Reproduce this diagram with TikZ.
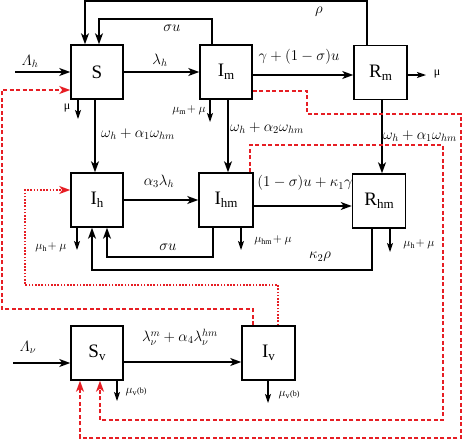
\RequirePackage{fix-cm}
\documentclass[tikz,border=0pt]{standalone}
\usepackage{amsmath}
\usepackage{fontspec}
\setmainfont{Liberation Serif}
\usetikzlibrary{arrows.meta}
\definecolor{rred}{RGB}{230,30,36}
\newcommand{\bsub}[1]{\raisebox{-0.35ex}{\fontsize{13}{13}\selectfont #1}}
\begin{document}
\begin{tikzpicture}[x=1pt,y=-1pt,
  box/.style={draw,line width=1.5pt,minimum width=52pt,minimum height=54pt,inner sep=0pt,font=\fontsize{19}{19}\selectfont},
  arr/.style={line width=1.3pt,-{Stealth[length=11pt,width=8pt,inset=3pt]}},
  sarr/.style={line width=1.1pt,-{Stealth[length=9pt,width=6pt,inset=2pt]}},
  rd/.style={draw=rred,line width=1.4pt,dash pattern=on 4pt off 2.5pt,-{Stealth[length=11pt,width=8pt,inset=3pt,fill=rred]}},
  rdot/.style={draw=rred,line width=1.4pt,dash pattern=on 1.6pt off 1.6pt,-{Stealth[length=11pt,width=8pt,inset=3pt,fill=rred]}},
  lab/.style={font=\fontsize{15}{15}\selectfont,inner sep=0pt},
  slab/.style={font=\fontsize{12}{12}\selectfont,inner sep=0pt}
]
\useasboundingbox (0,0) rectangle (463,440);
% boxes
\node[box] (S) at (97,72) {S};
\node[box] (Im) at (226,72) {I\bsub{m}};
\node[box,minimum width=53pt] (Rm) at (380.5,72.5) {R\bsub{m}};
\node[box] (Ih) at (97,200) {I\bsub{h}};
\node[box,minimum width=54pt] (Ihm) at (226,200) {I\bsub{hm}};
\node[box,minimum width=53pt] (Rhm) at (379,201) {R\bsub{hm}};
\node[box] (Sv) at (97,353) {S\bsub{v}};
\node[box,minimum width=53pt] (Iv) at (268.5,353) {I\bsub{v}};
% free ends
\coordinate (Lh) at (15,72);
\coordinate (Lv) at (13,363);
\coordinate (muS) at (78,119);
\coordinate (muIm) at (210,122);
\coordinate (muRm) at (426,75);
\coordinate (muIh) at (77,250);
\coordinate (muIhm) at (241,250);
\coordinate (muRhm) at (390,252);
\coordinate (muSv) at (117,401);
\coordinate (muIv) at (268,403);
% black connectors
\draw[arr] (Lh) -- (S.west);
\draw[arr] (S.east) -- (Im.west);
\draw[arr] (Im.east |- 0,75) -- (Rm.west |- 0,75);
\draw[sarr] (Rm.east |- 0,75) -- (muRm);
\draw[arr] (Rm.north -| 367,0) |- (85,1) -- (S.north -| 85,0);
\draw[arr] (Im.north -| 212,0) |- (99,19) -- (S.north -| 99,0);
\draw[sarr] (S.south -| muS) -- (muS);
\draw[arr] (S.south -| 95,0) -- (Ih.north -| 95,0);
\draw[sarr] (Im.south -| muIm) -- (muIm);
\draw[arr] (Im.south -| 228,0) -- (Ihm.north -| 228,0);
\draw[arr] (Rm.south -| 382,0) -- (Rhm.north -| 382,0);
\draw[arr] (Ih.east) -- (Ihm.west);
\draw[arr] (Ihm.east |- 0,206) -- (Rhm.west |- 0,206);
\draw[sarr] (Ih.south -| muIh) -- (muIh);
\draw[sarr] (Ihm.south -| muIhm) -- (muIhm);
\draw[sarr] (Rhm.south -| muRhm) -- (muRhm);
\draw[arr] (Ihm.south -| 213,0) |- (107,257) -- (Ih.south -| 107,0);
\draw[arr] (Rhm.south -| 372,0) |- (92,270) -- (Ih.south -| 92,0);
\draw[arr] (Lv) -- (Sv.west |- Lv);
\draw[arr] (Sv.east |- 0,362) -- (Iv.west |- 0,362);
\draw[sarr] (Sv.south -| muSv) -- (muSv);
\draw[sarr] (Iv.south -| muIv) -- (muIv);
% red connectors
\draw[rd] (Iv.north -| 253,0) |- (2,309) |- (S.west |- 0,90);
\draw[rdot] (Iv.north -| 278,0) |- (25,285) |- (Ih.west |- 0,190);
\draw[rd] (Im.east |- 0,91) -| (307,114) -| (461,438) -| (Sv.south -| 80,0);
\draw[rd] (Ihm.north -| 250,0) |- (443,145) |- (100,420) -- (Sv.south -| 100,0);
% labels
\node[lab] (tLh) at (30,61) {$\varLambda_h$};
\node[lab] (tlh) at (160,60) {$\lambda_h$};
\node[lab] (tsu1) at (172,28) {$\sigma u$};
\node[lab] (trho) at (319,12) {$\rho$};
\node[lab] (tgam) at (299,57) {$\gamma+(1-\sigma)u$};
\node[slab] (tmuRm) at (437,74) {μ};
\node[slab] (tmuS) at (67,108) {μ};
\node[lab] (tw1) at (138,134) {$\omega_h+\alpha_1\omega_{hm}$};
\node[slab] (tmuIm) at (189,110) {$\mu_{\mathrm{m}}\!+\mu$};
\node[lab] (tw2) at (267,128) {$\omega_h+\alpha_2\omega_{hm}$};
\node[lab] (tw3) at (420,136) {$\omega_h+\alpha_1\omega_{hm}$};
\node[lab] (ta3) at (159,181) {$\alpha_3\lambda_h$};
\node[lab] (tk1) at (305,183) {$(1-\sigma)u+\kappa_1\gamma$};
\node[slab] (tmuIh) at (51,247) {$\mu_{\mathrm{h}}\!+\mu$};
\node[lab] (tsu2) at (168,247) {$\sigma u$};
\node[slab] (tmuIhm) at (273,240) {$\mu_{\mathrm{hm}}\!+\mu$};
\node[lab] (tk2) at (320,257) {$\kappa_2\rho$};
\node[slab] (tmuRhm) at (419,244) {$\mu_{\mathrm{h}}\!+\mu$};
\node[lab] (tLv) at (28,347) {$\varLambda_\nu$};
\node[lab] (tlv) at (180,337) {$\lambda_\nu^m+\alpha_4\lambda_\nu^{hm}$};
\node[slab] (tmuSv) at (136,392) {$\mu_{\mathrm{v}}${\fontsize{8}{8}\selectfont (b)}};
\node[slab] (tmuIv) at (289,395) {$\mu_{\mathrm{v}}${\fontsize{8}{8}\selectfont (b)}};
\end{tikzpicture}
\end{document}
